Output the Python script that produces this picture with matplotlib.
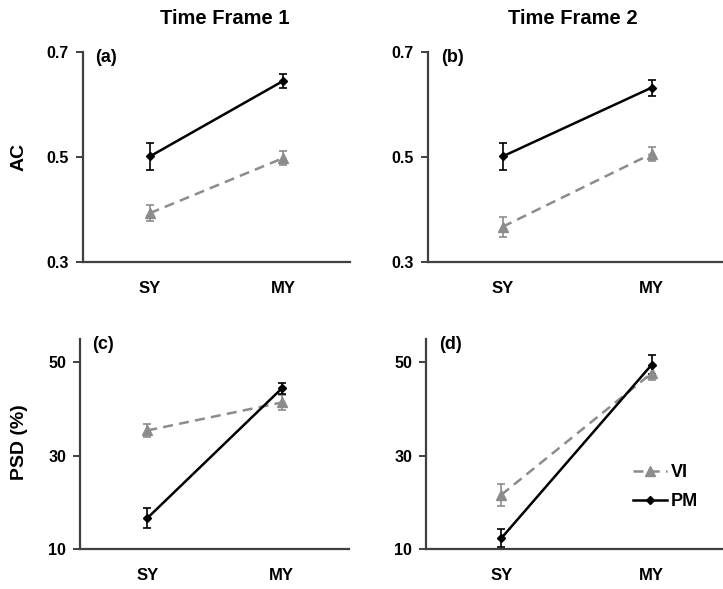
import matplotlib
matplotlib.use("Agg")
import matplotlib.pyplot as plt
from matplotlib.lines import Line2D

plt.rcParams['font.family'] = ['Liberation Sans', 'DejaVu Sans']
plt.rcParams['font.weight'] = 'bold'

categories = ["SY", "MY"]
series_names = ["VI", "PM"]

# AC, Time Frame 1 (a)
ac_tf1_vi = [0.393, 0.498]
ac_tf1_vi_err = [0.015, 0.014]
ac_tf1_pm = [0.501, 0.645]
ac_tf1_pm_err = [0.025, 0.013]
# AC, Time Frame 2 (b)
ac_tf2_vi = [0.367, 0.506]
ac_tf2_vi_err = [0.019, 0.013]
ac_tf2_pm = [0.501, 0.632]
ac_tf2_pm_err = [0.025, 0.015]
# PSD, Time Frame 1 (c)
psd_tf1_vi = [35.4, 41.4]
psd_tf1_vi_err = [1.3, 1.6]
psd_tf1_pm = [16.6, 44.4]
psd_tf1_pm_err = [2.1, 1.1]
# PSD, Time Frame 2 (d)
psd_tf2_vi = [21.6, 47.7]
psd_tf2_vi_err = [2.4, 1.5]
psd_tf2_pm = [12.3, 49.5]
psd_tf2_pm_err = [1.9, 2.0]

col_titles = ["Time Frame 1", "Time Frame 2"]
row_labels = ["AC", "PSD (%)"]
panel_labels = ["(a)", "(b)", "(c)", "(d)"]
ac_ticks = [0.3, 0.5, 0.7]
psd_ticks = [10, 30, 50]

W, H = 723, 589
fig = plt.figure(figsize=(W / 100, H / 100), dpi=100)

def ax_at(l, r, t, b):
    return fig.add_axes([l / W, 1 - b / H, (r - l) / W, (b - t) / H])

axes = [
    ax_at(83, 350, 52, 262),
    ax_at(428, 726, 52, 262),
    ax_at(80, 349, 339, 549),
    ax_at(426, 727, 339, 549),
]

data = [
    (ac_tf1_vi, ac_tf1_vi_err, ac_tf1_pm, ac_tf1_pm_err),
    (ac_tf2_vi, ac_tf2_vi_err, ac_tf2_pm, ac_tf2_pm_err),
    (psd_tf1_vi, psd_tf1_vi_err, psd_tf1_pm, psd_tf1_pm_err),
    (psd_tf2_vi, psd_tf2_vi_err, psd_tf2_pm, psd_tf2_pm_err),
]

gray = '#8c8c8c'
spine_col = '#404040'
x = list(range(len(categories)))
vi_style = dict(color=gray, ls=(0, (4, 2.5)), lw=1.8, marker='^', ms=7)
pm_style = dict(color='black', ls='-', lw=1.8, marker='D', ms=4.5)

for i, (ax, (vi, vie, pm, pme)) in enumerate(zip(axes, data)):
    ax.errorbar(x, vi, yerr=vie, capsize=3, elinewidth=1.2, capthick=1.2, **vi_style)
    ax.errorbar(x, pm, yerr=pme, capsize=3, elinewidth=1.2, capthick=1.2, **pm_style)
    ax.set_xlim(-0.5, 1.5)
    ax.set_xticks(x)
    ax.set_xticklabels(categories, fontsize=12, fontweight='bold')
    for s in ['top', 'right']:
        ax.spines[s].set_visible(False)
    for s in ['left', 'bottom']:
        ax.spines[s].set_color(spine_col)
        ax.spines[s].set_linewidth(1.6)
    ax.tick_params(axis='x', length=0, pad=14)
    ax.tick_params(axis='y', length=5, width=1.4, color=spine_col, pad=5)
    if i < 2:
        ax.set_ylim(0.3, 0.7)
        ax.set_yticks(ac_ticks)
        ax.set_yticklabels([f"{t:.1f}" for t in ac_ticks], fontsize=11.5,
                           fontweight='bold')
    else:
        ax.set_ylim(10, 55)
        ax.set_yticks(psd_ticks)
        ax.set_yticklabels([str(t) for t in psd_ticks], fontsize=11.5,
                           fontweight='bold')
    ax.text(0.045, 1.015, panel_labels[i], transform=ax.transAxes,
            fontsize=13, fontweight='bold', va='top', ha='left')

# column titles
for t, cx in zip(col_titles, [225, 573]):
    fig.text(cx / W, 1 - 18 / H, t, fontsize=14.5, fontweight='bold',
             ha='center', va='center')
# row labels
for t, cy in zip(row_labels, [157, 442]):
    fig.text(19 / W, 1 - cy / H, t, fontsize=14, fontweight='bold',
             rotation=90, ha='center', va='center')

handles = [Line2D([], [], **vi_style), Line2D([], [], **pm_style)]
leg = axes[3].legend(handles, series_names, loc='center left',
                     bbox_to_anchor=(0.688, 0.295), frameon=False,
                     fontsize=13, handlelength=1.9, handletextpad=0.2,
                     labelspacing=0.65, borderpad=0, borderaxespad=0)
for t in leg.get_texts():
    t.set_fontweight('bold')

fig.savefig('out.png', dpi=100)
